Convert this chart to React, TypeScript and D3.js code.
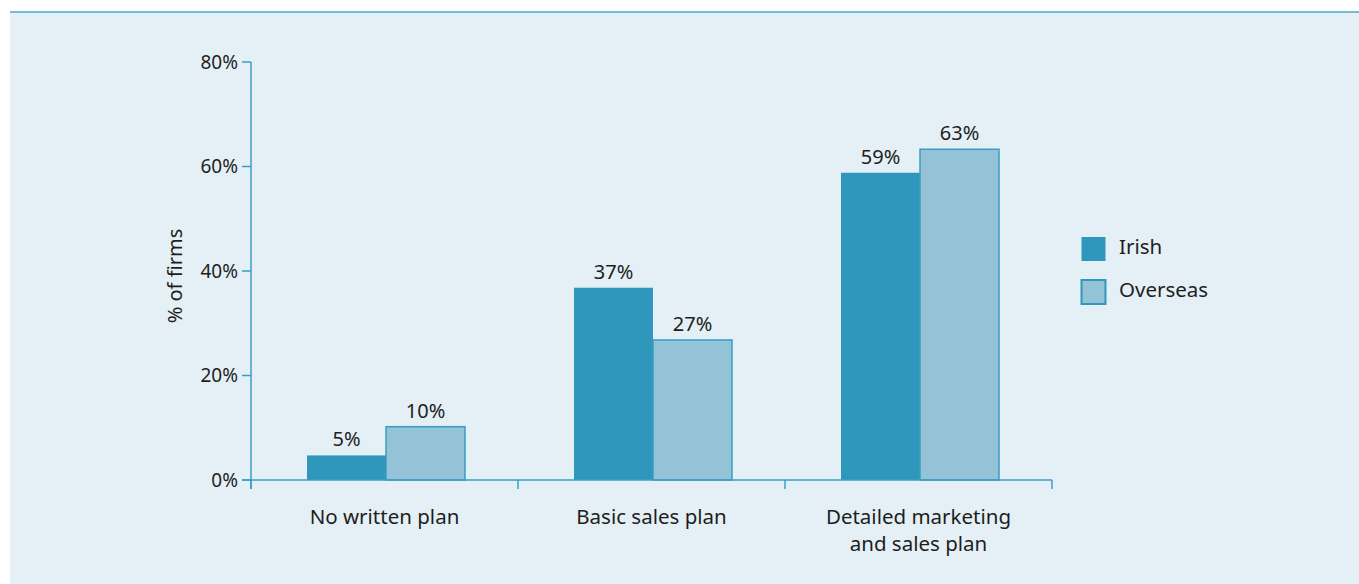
import React from "react";
import * as d3 from "d3";

const categories = ["No written plan", "Basic sales plan", "Detailed marketing\nand sales plan"];
const seriesNames = ["Irish", "Overseas"];
const irish = [4.7, 36.8, 58.8];
const overseas = [10.2, 26.8, 63.3];
const yTicks = [0, 20, 40, 60, 80];

const W = 1359, H = 584;
const FONT = "'Noto Sans', 'Open Sans', sans-serif";
const AXIS = "#3a9fc6";
const C_IRISH = "#2e97bb";
const C_OVER = "#94c3d8";
const TXT = "#1e1e1e";

export default function App() {
  const x0 = 251, x1 = 1052, y0 = 480, yTop = 62;
  const x = d3.scaleBand<string>().domain(categories).range([x0, x1]).paddingInner(0).paddingOuter(0);
  const y = d3.scaleLinear().domain([0, 80]).range([y0, yTop]);
  const inner = d3.scaleBand<string>().domain(seriesNames).range([56, x.bandwidth() - 53]);
  const series = [irish, overseas];
  const colors = [C_IRISH, C_OVER];
  return (
    <svg width={W} height={H} style={{ position: "absolute", left: 0, top: 0 }} fontFamily={FONT}>
      <rect x={0} y={0} width={W} height={H} fill="#ffffff" />
      <rect x={10} y={12} width={W - 10} height={H - 12} fill="#e4f0f5" />
      <line x1={10} x2={W} y1={12} y2={12} stroke="#4aaacb" strokeWidth={1.5} />
      {/* y axis */}
      <line x1={x0} x2={x0} y1={yTop} y2={489} stroke={AXIS} strokeWidth={1.5} />
      {yTicks.map((t) => (
        <g key={t}>
          <line x1={x0 - 9} x2={x0} y1={y(t)} y2={y(t)} stroke={AXIS} strokeWidth={1.5} />
          <text x={x0 - 13} y={y(t)} dy="0.35em" textAnchor="end" fontSize={19} fill={TXT}>{t}%</text>
        </g>
      ))}
      <text transform={`translate(182,${276}) rotate(-90)`} textAnchor="middle" fontSize={20} fill={TXT}>% of firms</text>
      {/* bars */}
      {categories.map((c, i) => (
        <g key={c}>
          {series.map((s, j) => {
            const bx = (x(c) as number) + (inner(seriesNames[j]) as number);
            const bw = inner.bandwidth();
            return (
              <g key={j}>
                <rect x={bx} y={y(s[i])} width={bw} height={y0 - y(s[i])} fill={colors[j]}
                  stroke={j === 1 ? "#3a9dc3" : "none"} strokeWidth={j === 1 ? 1.5 : 0} />
                <text x={bx + bw / 2} y={y(s[i]) - 9} textAnchor="middle" fontSize={20} fill={TXT}>{Math.round(s[i])}%</text>
              </g>
            );
          })}
        </g>
      ))}
      {/* x axis */}
      <line x1={x0 - 9} x2={x1} y1={y0} y2={y0} stroke={AXIS} strokeWidth={1.5} />
      {[...categories.map((c) => x(c) as number), x1].map((v, i) => (
        <line key={i} x1={v} x2={v} y1={y0} y2={489} stroke={AXIS} strokeWidth={1.5} />
      ))}
      {categories.map((c) => {
        const lines = c.split("\n");
        return (
          <text key={c} x={(x(c) as number) + x.bandwidth() / 2} y={524} textAnchor="middle" fontSize={20.5} fill={TXT}>
            {lines.map((l, k) => (
              <tspan key={k} x={(x(c) as number) + x.bandwidth() / 2} dy={k === 0 ? 0 : 27}>{l}</tspan>
            ))}
          </text>
        );
      })}
      {/* legend */}
      {seriesNames.map((n, j) => (
        <g key={n}>
          <rect x={1081.5} y={237 + j * 43} width={24} height={24} fill={colors[j]}
            stroke={j === 1 ? "#2e97bb" : "none"} strokeWidth={j === 1 ? 2 : 0} />
          <text x={1119} y={247 + j * 43} dy="0.35em" fontSize={20.5} fill={TXT}>{n}</text>
        </g>
      ))}
    </svg>
  );
}
